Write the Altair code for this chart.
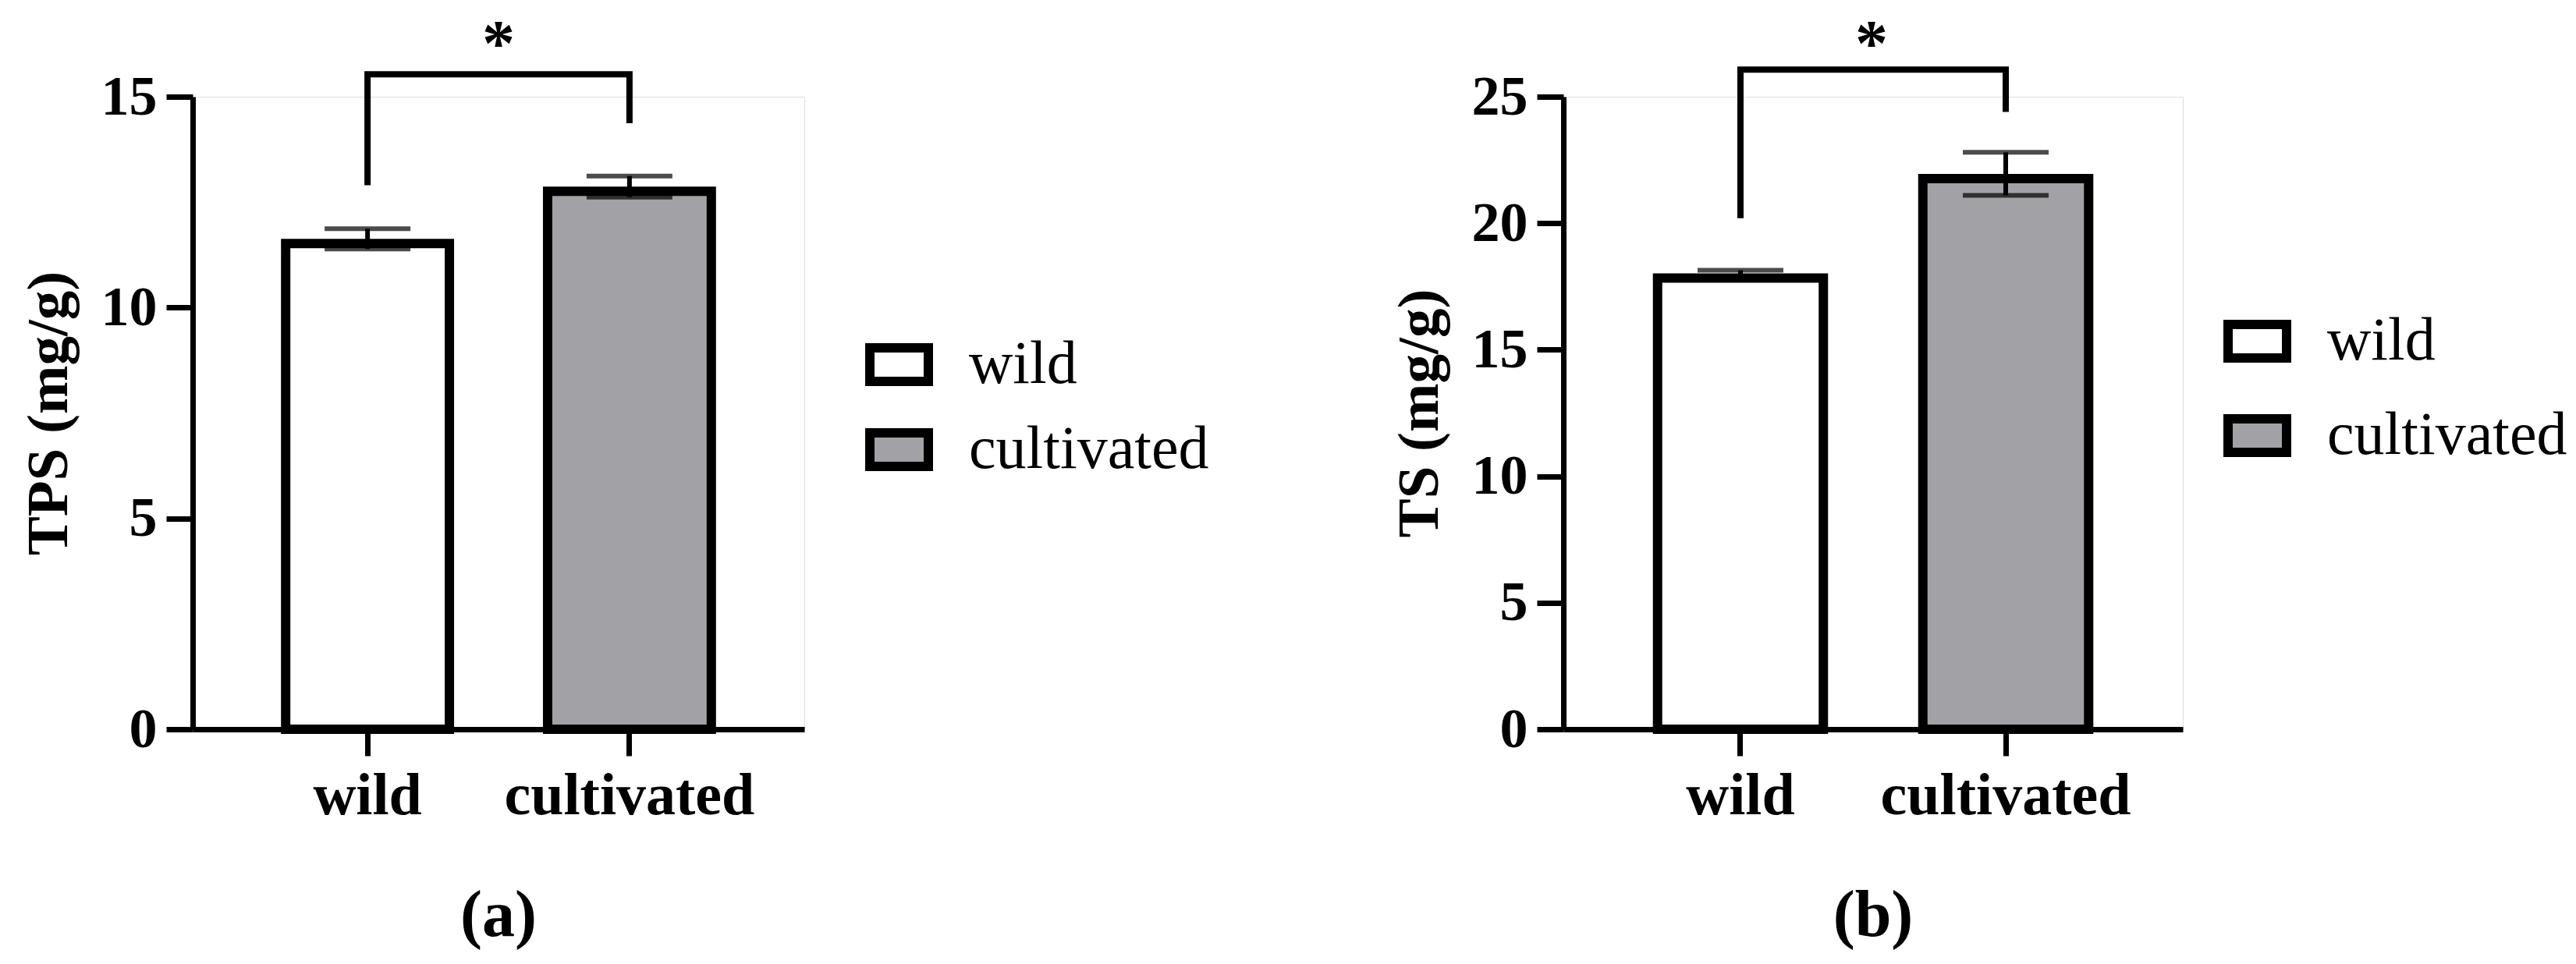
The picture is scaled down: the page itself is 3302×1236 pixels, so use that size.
import altair as alt
import pandas as pd

categories = ["wild", "cultivated"]

# panel (a): TPS
tps_mean = [11.63, 12.87]
tps_se = [0.24, 0.25]
# panel (b): TS
ts_mean = [18.02, 21.95]
ts_se = [0.12, 0.85]

# significance brackets (leg bottom for wild, bar top, leg bottom for cultivated)
bracket_a = [12.9, 15.53, 15.53, 14.37]
bracket_b = [20.2, 26.07, 26.07, 24.4]
star_a = [16.48]
star_b = [27.47]

FONT = "Liberation Serif"
GRAY = "#a2a1a6"


def panel(mean, se, bracket, star, ytitle, yticks, ymax, width, legx, legy, rowpad, label):
    df = pd.DataFrame({
        "group": categories,
        "mean": mean,
        "lo": [m - s for m, s in zip(mean, se)],
        "hi": [m + s for m, s in zip(mean, se)],
    })
    br = pd.DataFrame({
        "group": ["wild", "wild", "cultivated", "cultivated"],
        "y": bracket,
        "o": [0, 1, 2, 3],
    })
    st = pd.DataFrame({"group": ["wild"], "y": star, "t": ["*"]})

    xenc = alt.X(
        "group:N",
        sort=categories,
        scale=alt.Scale(domain=categories, paddingInner=0.375, paddingOuter=0.355),
        axis=alt.Axis(
            title=None, labelAngle=0, domainColor="black", domainWidth=7,
            tickColor="black", tickWidth=7, tickSize=34, labelLimit=2000,
            labelFont=FONT, labelFontWeight="bold", labelFontSize=76,
            labelColor="black", labelPadding=14,
        ),
    )
    yscale = alt.Scale(domain=[0, ymax], nice=False, zero=True)
    yaxis = alt.Axis(
        values=yticks, grid=False, title=ytitle, domainColor="black",
        domainWidth=7, tickColor="black", tickWidth=7, tickSize=34,
        labelFont=FONT, labelFontWeight="bold", labelFontSize=72,
        labelColor="black", labelPadding=12,
        titleFont=FONT, titleFontWeight="bold", titleFontSize=75,
        titleColor="black", titlePadding=28,
    )

    bars = alt.Chart(df).mark_bar(
        stroke="black", strokeWidth=12, yOffset=6, y2Offset=-6
    ).encode(
        x=xenc,
        y=alt.Y("mean:Q", scale=yscale, axis=yaxis, stack=None),
        fill=alt.Fill(
            "group:N",
            sort=categories,
            scale=alt.Scale(domain=categories, range=["white", GRAY]),
            legend=alt.Legend(
                title=None, orient="none", legendX=legx, legendY=legy,
                symbolType="M-1,-0.573H1V0.573H-1Z", symbolSize=5625,
                symbolStrokeColor="black", symbolStrokeWidth=12,
                symbolOpacity=1, labelFont=FONT, labelFontSize=78,
                labelColor="black", labelOffset=46, rowPadding=rowpad,
                padding=0, labelLimit=2000,
            ),
        ),
    )
    err = alt.Chart(df).mark_rule(color="black", strokeWidth=6).encode(
        x=alt.X("group:N", sort=categories),
        y=alt.Y("lo:Q"),
        y2="hi:Q",
    )
    cap_hi = alt.Chart(df).mark_tick(
        color="black", thickness=6, size=110, orient="horizontal"
    ).encode(x=alt.X("group:N", sort=categories), y="hi:Q")
    cap_lo = alt.Chart(df).mark_tick(
        color="black", thickness=6, size=110, orient="horizontal"
    ).encode(x=alt.X("group:N", sort=categories), y="lo:Q")
    bracket_line = alt.Chart(br).mark_line(
        color="black", strokeWidth=8, strokeJoin="miter", strokeCap="butt"
    ).encode(
        x=alt.X("group:N", sort=categories),
        y="y:Q",
        order="o:Q",
    )
    star_text = alt.Chart(st).mark_text(
        font=FONT, fontWeight="bold", fontSize=84, color="black",
        baseline="alphabetic", dx=168, dy=40,
    ).encode(x=alt.X("group:N", sort=categories), y="y:Q", text="t:N")

    return alt.layer(bars, err, cap_hi, cap_lo, bracket_line, star_text).properties(
        width=width, height=811,
        title=alt.TitleParams(
            label, orient="bottom", anchor="middle",
            font=FONT, fontSize=84, fontWeight="bold", color="black", offset=76,
        ),
    )


pa = panel(tps_mean, tps_se, bracket_a, star_a, "TPS (mg/g)", [0, 5, 10, 15], 15,
           784, 862, 300, 18, "(a)")
pb = panel(ts_mean, ts_se, bracket_b, star_b, "TS (mg/g)", [0, 5, 10, 15, 20, 25], 25,
           794, 846, 270, 30, "(b)")

chart = alt.hconcat(pa, pb, spacing=230).resolve_scale(
    fill="independent", x="independent", y="independent"
).resolve_legend(fill="independent").properties(
    padding={"left": 16, "top": 8, "right": 0, "bottom": 0}
).configure_view(stroke="transparent", strokeWidth=0).configure(background="white")

chart.save("out.html", embed_options={"renderer": "svg", "actions": False})
